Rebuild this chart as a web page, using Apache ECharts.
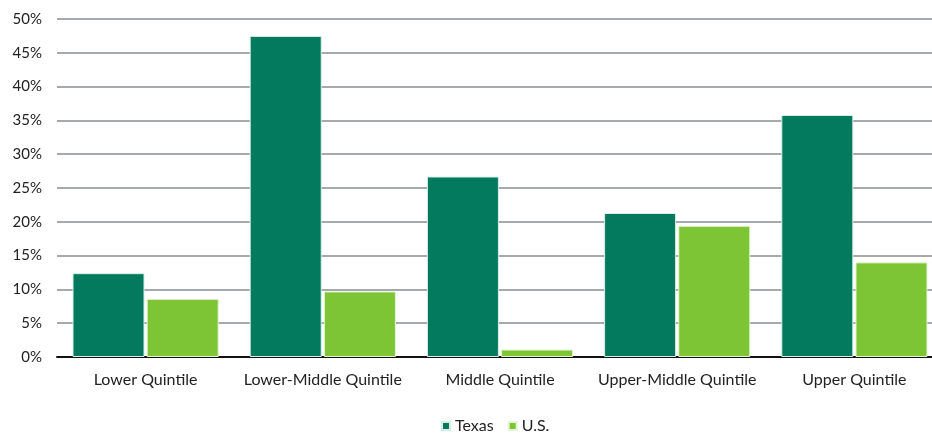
<!DOCTYPE html>
<html>
<head>
<meta charset="utf-8">
<script src="https://cdn.jsdelivr.net/npm/echarts@6/dist/echarts.min.js"></script>
<style>
  html, body { margin: 0; padding: 0; background: #fff; overflow: hidden; }
  #chart { width: 932px; height: 433px; }
</style>
</head>
<body>
<div id="chart"></div>
<script>
// Income quintile shares, Texas vs. U.S. (percent)
const categories = ['Lower Quintile', 'Lower-Middle Quintile', 'Middle Quintile', 'Upper-Middle Quintile', 'Upper Quintile'];
const texasValues = [12.4, 47.5, 26.7, 21.3, 35.8];
const usValues = [8.6, 9.7, 1.1, 19.4, 14.0];
const seriesNames = ['Texas', 'U.S.'];

const fontFamily = 'Lato, "Open Sans", sans-serif';

const chart = echarts.init(document.getElementById('chart'));
chart.setOption({
  animation: false,
  // plot area runs slightly past the right edge of the canvas
  grid: { left: 57, width: 886, top: 19, height: 338, containLabel: false, outerBoundsMode: 'none' },
  legend: {
    top: 413,
    left: 436,
    itemWidth: 8,
    itemHeight: 8,
    itemGap: 14,
    icon: 'rect',
    textStyle: { fontFamily, fontSize: 16, color: '#222' },
    data: seriesNames
  },
  xAxis: {
    type: 'category',
    data: categories,
    axisTick: { show: false },
    axisLine: { show: true, lineStyle: { color: '#111', width: 2 } },
    axisLabel: { interval: 0, fontFamily, fontSize: 16, color: '#222', margin: 15 }
  },
  yAxis: {
    type: 'value',
    min: 0,
    max: 50,
    interval: 5,
    axisLine: { show: false },
    axisTick: { show: false },
    axisLabel: { fontFamily, fontSize: 15, color: '#222', margin: 15, formatter: '{value}%' },
    splitLine: { lineStyle: { color: '#a7aaad', width: 2 } }
  },
  series: [
    {
      name: seriesNames[0],
      type: 'bar',
      data: texasValues,
      barGap: '3%',
      barCategoryGap: '17.5%',
      itemStyle: { color: '#037a5e', borderColor: '#d8efe6', borderWidth: 1 }
    },
    {
      name: seriesNames[1],
      type: 'bar',
      data: usValues,
      itemStyle: { color: '#7dc535', borderColor: '#e4f4d4', borderWidth: 1 }
    }
  ]
});
</script>
</body>
</html>
